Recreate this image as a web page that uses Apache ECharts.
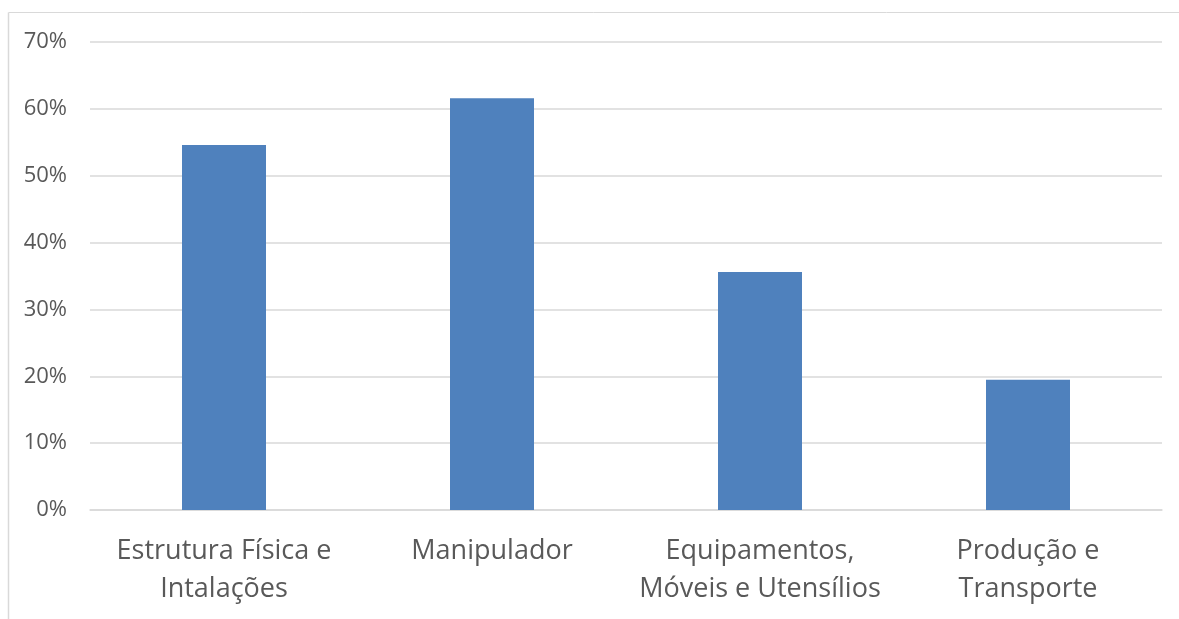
<!DOCTYPE html>
<html>
<head>
<meta charset="utf-8">
<script src="https://cdn.jsdelivr.net/npm/echarts@6/dist/echarts.min.js"></script>
<style>
  html, body { margin: 0; padding: 0; background: #fff; }
  #chart { width: 1179px; height: 619px; }
</style>
</head>
<body>
<div id="chart"></div>
<script>
// Categories and percentages per category
const categories = [
  'Estrutura Física e\nIntalações',
  'Manipulador',
  'Equipamentos,\nMóveis e Utensílios',
  'Produção e\nTransporte'
];
const values = [54.6, 61.6, 35.6, 19.5];
const yTicks = [0, 10, 20, 30, 40, 50, 60, 70];

const FONT = "'Open Sans', 'Noto Sans', sans-serif";
const TEXT = '#595959';
const GRID = '#d9d9d9';

const chart = echarts.init(document.getElementById('chart'), null, { renderer: 'canvas' });
chart.setOption({
  animation: false,
  backgroundColor: '#ffffff',
  grid: { left: 90, right: 17, top: 42, bottom: 109, containLabel: false },
  graphic: [
    { type: 'line', shape: { x1: 8.5, y1: 12.5, x2: 1179, y2: 12.5 }, style: { stroke: GRID, lineWidth: 1 } },
    { type: 'line', shape: { x1: 8.5, y1: 12.5, x2: 8.5, y2: 619 }, style: { stroke: GRID, lineWidth: 1.5 } }
  ],
  xAxis: {
    type: 'category',
    data: categories,
    axisLine: { show: true, lineStyle: { color: GRID, width: 1.5 } },
    axisTick: { show: false },
    axisLabel: {
      color: TEXT, fontFamily: FONT, fontSize: 27, lineHeight: 38,
      margin: 22, interval: 0
    }
  },
  yAxis: {
    type: 'value',
    min: yTicks[0],
    max: yTicks[yTicks.length - 1],
    interval: 10,
    axisLine: { show: false },
    axisTick: { show: false },
    splitLine: { lineStyle: { color: GRID, width: 1.5 } },
    axisLabel: {
      color: TEXT, fontFamily: FONT, fontSize: 22, margin: 23,
      formatter: '{value}%'
    }
  },
  series: [{
    type: 'bar',
    data: values,
    barWidth: 84,
    itemStyle: { color: '#4f81bd' }
  }]
});
</script>
</body>
</html>
